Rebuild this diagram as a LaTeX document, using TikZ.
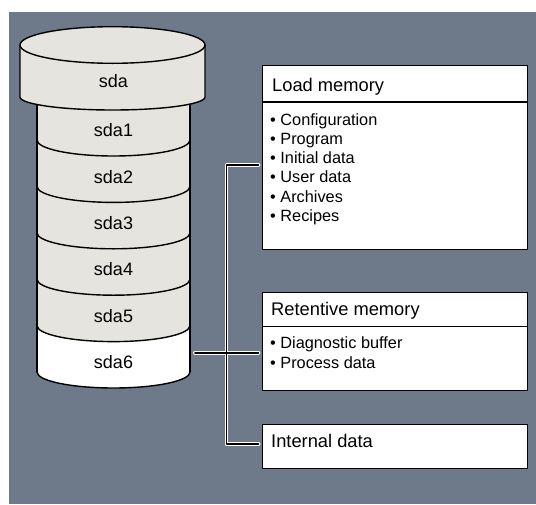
\documentclass[tikz,border=0pt]{standalone}
\usepackage{fontspec}
\setmainfont{Liberation Sans}
\usepackage{tikz}
\definecolor{panel}{HTML}{6E7A89}
\definecolor{disk}{HTML}{E5E4DE}

\begin{document}
\begin{tikzpicture}
[x=1pt,y=1pt,line join=round]
\tikzset{
	memBox/.style = {draw, line width=1.4pt, fill=white, anchor=north west, minimum width=265pt, inner sep=0},
	headText/.style = {anchor=base west, inner sep=0, font=\fontsize{18.3}{22}\selectfont},
	itemText/.style = {anchor=base west, inner sep=0, font=\fontsize{16.3}{19.5}\selectfont},
	diskText/.style = {anchor=base, inner sep=0, font=\fontsize{18}{21}\selectfont},
	diskLine/.style = {line width=1.4pt},
	link/.style = {draw=white, line width=1pt, double=black, double distance=1.7pt, line cap=round}
}

\useasboundingbox (0,0) rectangle (536,-504);
\fill[panel] (9,-12) rectangle (536,-504);

% narrow stack
\fill[white] (37,-100) -- (37,-372) arc[start angle=180,end angle=360,x radius=76.5pt,y radius=16pt] -- (190,-100) -- cycle;
\fill[disk] (37,-100) -- (37,-325.6) arc[start angle=180,end angle=360,x radius=76.5pt,y radius=16pt] -- (190,-100) -- cycle;
\foreach \k in {0,...,5}{
	\draw[diskLine] (37,{-140-46.4*\k}) arc[start angle=180,end angle=360,x radius=76.5pt,y radius=16pt];
}
\draw[diskLine] (37,-100) -- (37,-372);
\draw[diskLine] (190,-100) -- (190,-372);
\coordinate (stackRight) at (190,-352.7);

% top disc
\filldraw[diskLine, fill=disk] (20,-45) -- (20,-97) arc[start angle=180,end angle=360,x radius=92.5pt,y radius=13pt]
	-- (205,-45) arc[start angle=0,end angle=180,x radius=92.5pt,y radius=18.3pt] -- cycle;
\draw[diskLine] (20,-45) arc[start angle=180,end angle=360,x radius=92.5pt,y radius=18.3pt];

\node[diskText] (sda) at (113.5,-87.7) {sda};
\foreach \k in {1,...,6}{
	\node[diskText] (sda\k) at (113.5,{-136.7-46.4*(\k-1)}) {sda\k};
}

% memory areas
\node[memBox, minimum height=184pt] (load) at (262,-65) {};
\draw[line width=1.1pt] ([yshift=-37pt]load.north west) -- ([yshift=-37pt]load.north east);
\node[headText] (loadHead) at (272,-91.7) {Load memory};
\foreach \t [count=\i from 0] in {Configuration, Program, Initial data, User data, Archives, Recipes}{
	\node[itemText] (loadItem\i) at (270,{-125-19.3*\i}) {\textbullet\ \t};
}

\node[memBox, minimum height=98pt] (retentive) at (262,-292) {};
\draw[line width=1.1pt] ([yshift=-34.3pt]retentive.north west) -- ([yshift=-34.3pt]retentive.north east);
\node[headText] (retentiveHead) at (271,-315) {Retentive memory};
\foreach \t [count=\i from 0] in {Diagnostic buffer, Process data}{
	\node[itemText] (retentiveItem\i) at (270,{-348.3-20*\i}) {\textbullet\ \t};
}

\node[memBox, minimum height=44pt] (internal) at (262,-424) {};
\node[headText] (internalHead) at (271,-447.7) {Internal data};

% bracket
\coordinate (busTop) at (226.5,-165);
\coordinate (busMid) at (226.5,-352.7);
\coordinate (busBot) at (226.5,-444);
\draw[link] ([xshift=-3.5pt]load.west |- busTop) -- (busTop) -- (busBot) -- ([xshift=-3.5pt]internal.west |- busBot)
	([xshift=5pt]stackRight) -- ([xshift=-3.5pt]retentive.west |- busMid);
\end{tikzpicture}
\end{document}
